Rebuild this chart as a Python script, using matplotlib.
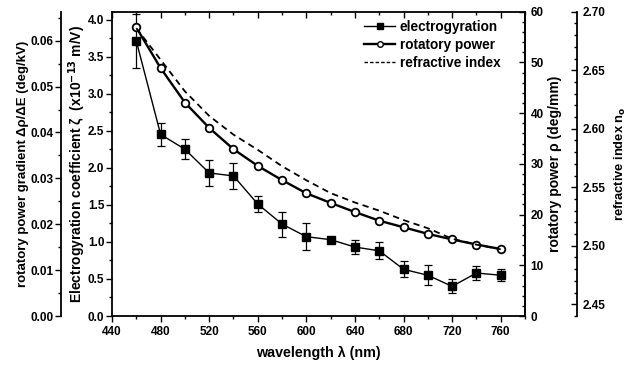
import matplotlib
matplotlib.use("Agg")
import matplotlib.pyplot as plt
from matplotlib.ticker import MultipleLocator, FormatStrFormatter
from matplotlib.lines import Line2D

plt.rcParams["font.family"] = ["Liberation Sans", "DejaVu Sans"]
plt.rcParams["font.weight"] = "bold"
plt.rcParams["axes.labelweight"] = "bold"

# ── data ──────────────────────────────────────────────────────────────────────
wavelength = [460, 480, 500, 520, 540, 560, 580, 600,
              620, 640, 660, 680, 700, 720, 740, 760]

# electrogyration coefficient zeta (x1e-13 m/V) with error bars
zeta = [3.71, 2.45, 2.25, 1.93, 1.89, 1.51, 1.24, 1.07,
        1.03, 0.93, 0.88, 0.63, 0.55, 0.40, 0.58, 0.55]
zeta_err = [0.36, 0.16, 0.135, 0.17, 0.17, 0.105, 0.17, 0.18,
            0.02, 0.10, 0.115, 0.11, 0.135, 0.095, 0.09, 0.08]

# rotatory power rho (deg/mm)
rho = [56.9, 48.9, 42.1, 37.1, 32.9, 29.6, 26.8, 24.2,
       22.3, 20.5, 18.8, 17.5, 16.2, 15.1, 14.1, 13.2]

# refractive index n_o
n_o = [2.686, 2.659, 2.632, 2.611, 2.595, 2.582, 2.568, 2.556,
       2.545, 2.537, 2.530, 2.522, 2.515, 2.506, 2.501, 2.497]

# ── figure ────────────────────────────────────────────────────────────────────
fig = plt.figure(figsize=(6.34, 3.68), dpi=100)
ax = fig.add_axes([0.1767, 0.1413, 0.6514, 0.8267])

TICK_FS = 8.5


def ticks(a, axis, direction, pad=2.5):
    a.tick_params(axis=axis, which="both", direction=direction,
                  labelsize=TICK_FS, pad=pad)
    a.tick_params(axis=axis, which="major", length=4, width=1.0)
    a.tick_params(axis=axis, which="minor", length=2.5, width=1.0)


# main axis: zeta
ax.errorbar(wavelength, zeta, yerr=zeta_err, color="black", lw=1.0,
            marker="s", ms=5.8, mfc="black", mec="black",
            ecolor="black", elinewidth=0.9, capsize=3, capthick=0.9,
            zorder=3)
ax.set_xlim(440, 780)
ax.set_ylim(0, 4.105)
ax.xaxis.set_major_locator(MultipleLocator(40))
ax.xaxis.set_minor_locator(MultipleLocator(20))
ax.yaxis.set_major_locator(MultipleLocator(0.5))
ax.yaxis.set_minor_locator(MultipleLocator(0.25))
ticks(ax, "x", "out", pad=3)
ticks(ax, "y", "out", pad=1.5)
ax.tick_params(top=False, right=False)
ax.set_xlabel("wavelength λ (nm)", fontsize=10.3, labelpad=6)
ax.set_ylabel("Electrogyration coefficient ζ  (x10$^{\\mathbf{-13}}$ m/V)",
              fontsize=10, labelpad=0)
for s in ax.spines.values():
    s.set_linewidth(1.3)

# top ticks point inwards
topax = ax.twiny()
topax.set_xlim(ax.get_xlim())
topax.xaxis.set_major_locator(MultipleLocator(40))
topax.xaxis.set_minor_locator(MultipleLocator(20))
ticks(topax, "x", "in")
topax.tick_params(axis="x", labeltop=False)
topax.tick_params(axis="y", left=False, labelleft=False)
for s in topax.spines.values():
    s.set_visible(False)

# far-left axis: rotatory power gradient
ax_g = ax.twinx()
ax_g.set_ylim(0, 0.0663)
ax_g.spines["left"].set_position(("axes", -0.1235))
ax_g.spines["left"].set_visible(True)
ax_g.spines["left"].set_linewidth(1.3)
for k in ("right", "top", "bottom"):
    ax_g.spines[k].set_visible(False)
ax_g.yaxis.set_ticks_position("left")
ax_g.yaxis.set_label_position("left")
ax_g.yaxis.set_major_locator(MultipleLocator(0.01))
ax_g.yaxis.set_minor_locator(MultipleLocator(0.005))
ax_g.yaxis.set_major_formatter(FormatStrFormatter("%.2f"))
ticks(ax_g, "y", "out", pad=1.5)
ax_g.set_ylabel("rotatory power gradient Δρ/ΔE (deg/kV)", fontsize=9.5,
                labelpad=1)

# right axis: rotatory power
ax_r = ax.twinx()
ax_r.plot(wavelength, rho, color="black", lw=1.7, marker="o", ms=5.5,
          mfc="white", mec="black", mew=1.3, zorder=4)
ax_r.set_ylim(0, 60)
ax_r.yaxis.set_major_locator(MultipleLocator(10))
ax_r.yaxis.set_minor_locator(MultipleLocator(2))
ticks(ax_r, "y", "in", pad=4)
for k in ("left", "top", "bottom"):
    ax_r.spines[k].set_visible(False)
ax_r.spines["right"].set_linewidth(1.3)
ax_r.set_ylabel("rotatory power ρ (deg/mm)", fontsize=10, labelpad=3)

# far-right axis: refractive index
ax_n = ax.twinx()
ax_n.plot(wavelength, n_o, color="black", lw=1.3, ls=(0, (3.5, 2.5)),
          zorder=2)
ax_n.set_ylim(2.44, 2.70)
ax_n.spines["right"].set_position(("axes", 1.126))
ax_n.spines["right"].set_linewidth(1.3)
for k in ("left", "top", "bottom"):
    ax_n.spines[k].set_visible(False)
ax_n.yaxis.set_major_locator(MultipleLocator(0.05))
ax_n.yaxis.set_minor_locator(MultipleLocator(0.01))
ax_n.yaxis.set_major_formatter(FormatStrFormatter("%.2f"))
ticks(ax_n, "y", "in", pad=4)
ax_n.set_ylabel("refractive index n$_\\mathbf{o}$", fontsize=9.3,
                labelpad=5)

# legend
handles = [
    Line2D([], [], color="black", lw=1.0, marker="s", ms=4, mfc="black"),
    Line2D([], [], color="black", lw=1.7, marker="o", ms=4, mfc="white",
           mew=1.0),
    Line2D([], [], color="black", lw=1.0, ls=(0, (2.5, 1.5))),
]
ax_n.legend(handles, ["electrogyration", "rotatory power", "refractive index"],
            loc="upper right", bbox_to_anchor=(0.96, 1.0), frameon=False,
            fontsize=9.8, handlelength=2.3, handletextpad=0.3,
            labelspacing=0.3, borderaxespad=0.2)

fig.savefig("out.png", dpi=100)
